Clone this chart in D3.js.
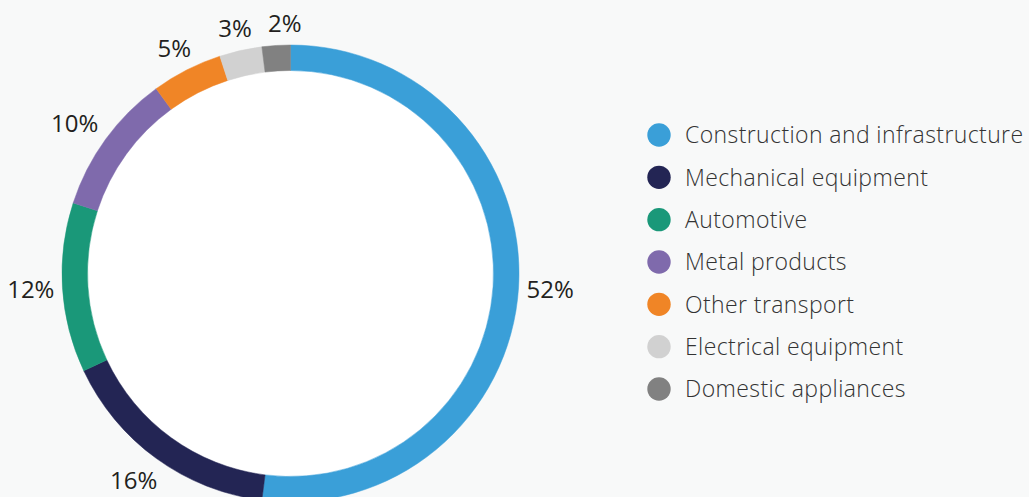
<!DOCTYPE html>
<html>
<head>
<meta charset="utf-8">
<script src="https://cdn.jsdelivr.net/npm/d3@7"></script>
<style>
  html, body { margin: 0; padding: 0; background: #f8f9f9; }
  svg { display: block; }
</style>
</head>
<body>
<svg id="chart" width="1029" height="497"></svg>
<script>
// End-use sectors and their share of demand (%)
const categories = [
  "Construction and infrastructure",
  "Mechanical equipment",
  "Automotive",
  "Metal products",
  "Other transport",
  "Electrical equipment",
  "Domestic appliances"
];
const shares = [52, 16, 12, 10, 5, 3, 2];
const sliceColors = ["#3a9fd8", "#232554", "#1a9879", "#7f6aac", "#f08526", "#d1d1d1", "#818181"];
const valueLabels = shares.map(v => v + "%");

const cx = 290.5, cy = 273.5;
const outerR = 228.5, innerR = 203;
const labelOffset = 4, labelPad = 4;
const labelFont = 24;
const legendFont = 23;
const fontFamily = "'Open Sans', 'Noto Sans', sans-serif";

const svg = d3.select("#chart");

const color = d3.scaleOrdinal().domain(categories).range(sliceColors);

const pie = d3.pie().sort(null).value(d => d.value).startAngle(0).endAngle(2 * Math.PI);
const rows = categories.map((c, i) => ({ name: c, value: shares[i], label: valueLabels[i] }));
const arcs = pie(rows);

const arc = d3.arc().innerRadius(innerR).outerRadius(outerR);

const g = svg.append("g").attr("transform", `translate(${cx},${cy})`);

// white disc inside the ring
g.append("circle").attr("r", innerR).attr("fill", "#ffffff");

g.selectAll("path.slice")
  .data(arcs)
  .join("path")
  .attr("class", "slice")
  .attr("d", arc)
  .attr("fill", d => color(d.data.name))
  .attr("stroke", d => color(d.data.name))
  .attr("stroke-width", 0.5);

// percentage labels: box aligned outward from the slice's outer edge
const labels = g.selectAll("text.pct")
  .data(arcs)
  .join("text")
  .attr("class", "pct")
  .attr("font-family", fontFamily)
  .attr("font-size", labelFont)
  .attr("fill", "#231f20")
  .attr("text-anchor", "middle")
  .text(d => d.data.label);

const boxes = [];
labels.each(function (d) {
  const tw = this.getComputedTextLength();
  const w = tw + 2 * labelPad;
  const h = labelFont * 1.2 + 2 * labelPad;
  const mid = (d.startAngle + d.endAngle) / 2;
  const vx = Math.sin(mid), vy = -Math.cos(mid);
  const vs = 1 / Math.max(Math.abs(vx), Math.abs(vy));
  const r = outerR + labelOffset;
  boxes.push({
    node: this,
    w: tw, h: labelFont * 0.72,
    x: r * vx + (w / 2) * vx * vs,
    y: r * vy + (h / 2) * vy * vs
  });
});

// keep neighbouring labels from crowding each other
const minGap = 16;
for (let i = 1; i < boxes.length; i++) {
  const a = boxes[i - 1], b = boxes[i];
  const vOverlap = Math.abs(a.y - b.y) < (a.h + b.h) / 2 + 4;
  if (!vOverlap) continue;
  const dir = b.x >= a.x ? 1 : -1;
  const gap = dir * (b.x - a.x) - (a.w + b.w) / 2;
  if (gap < minGap) b.x += dir * (minGap - gap);
}

boxes.forEach(b => {
  d3.select(b.node)
    .attr("x", b.x)
    .attr("y", b.y + b.h / 2);
});

// legend
const legendY = d3.scalePoint().domain(categories).range([135, 389]);
const legendX = 659;

const legend = svg.append("g");
const item = legend.selectAll("g.item")
  .data(categories)
  .join("g")
  .attr("class", "item")
  .attr("transform", d => `translate(${legendX},${legendY(d)})`);

item.append("circle")
  .attr("r", 11.7)
  .attr("fill", d => color(d));

item.append("text")
  .attr("x", 26)
  .attr("y", legendFont * 0.36)
  .attr("font-family", fontFamily)
  .attr("font-size", legendFont)
  .attr("font-weight", 300)
  .attr("letter-spacing", 0.4)
  .attr("fill", "#333333")
  .text(d => d);
</script>
</body>
</html>
